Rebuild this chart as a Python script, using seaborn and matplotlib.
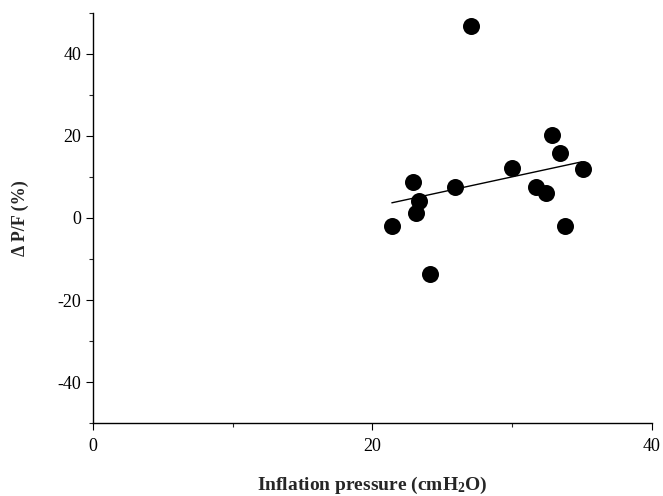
import numpy as np
import pandas as pd
import matplotlib
matplotlib.use("Agg")
import matplotlib.pyplot as plt
from matplotlib.ticker import MultipleLocator
import seaborn as sns

# data
pressure = [21.4, 22.9, 23.35, 23.1, 24.15, 25.95, 27.1, 30.0, 31.75, 32.45, 32.85, 33.4, 33.8, 35.1]
delta_pf = [-1.9, 8.8, 4.1, 1.1, -13.7, 7.5, 46.9, 12.2, 7.5, 6.2, 20.3, 15.8, -1.9, 11.9]
fit_x = [21.4, 35.0]
fit_y = [3.7, 13.7]

df = pd.DataFrame({'p': pressure, 'd': delta_pf})
fit = pd.DataFrame({'p': fit_x, 'd': fit_y})

sns.set_style("ticks")
plt.rcParams['font.family'] = ['Liberation Serif', 'DejaVu Serif']
plt.rcParams['axes.unicode_minus'] = False
plt.rcParams['mathtext.default'] = 'regular'

fig = plt.figure(figsize=(6.63, 4.96), dpi=100)
ax = fig.add_axes([0.140, 0.147, 0.843, 0.827])

sns.lineplot(data=fit, x='p', y='d', color='black', linewidth=1.0, ax=ax)
sns.scatterplot(data=df, x='p', y='d', color='black', s=150, edgecolor='black', linewidth=0, ax=ax, zorder=3)

ax.set_xlim(0, 40)
ax.set_ylim(-50, 50)
ax.set_xticks([0, 20, 40])
ax.set_yticks([-40, -20, 0, 20, 40])
ax.xaxis.set_minor_locator(MultipleLocator(10))
ax.yaxis.set_minor_locator(MultipleLocator(10))
ax.tick_params(axis='both', which='major', direction='out', length=5, width=0.8, labelsize=13, colors='black')
ax.tick_params(axis='both', which='minor', direction='out', length=3, width=0.8)
ax.tick_params(axis='x', pad=6)

sns.despine(ax=ax)
for sp in ['left', 'bottom']:
    ax.spines[sp].set_linewidth(1.0)
    ax.spines[sp].set_color('black')

ax.set_xlabel('Inflation pressure (cmH$_2$O)', fontsize=14, fontweight='bold', labelpad=14)
ax.set_ylabel('Δ P/F (%)', fontsize=13, fontweight='bold', labelpad=20)

fig.savefig('out.png', dpi=100)
